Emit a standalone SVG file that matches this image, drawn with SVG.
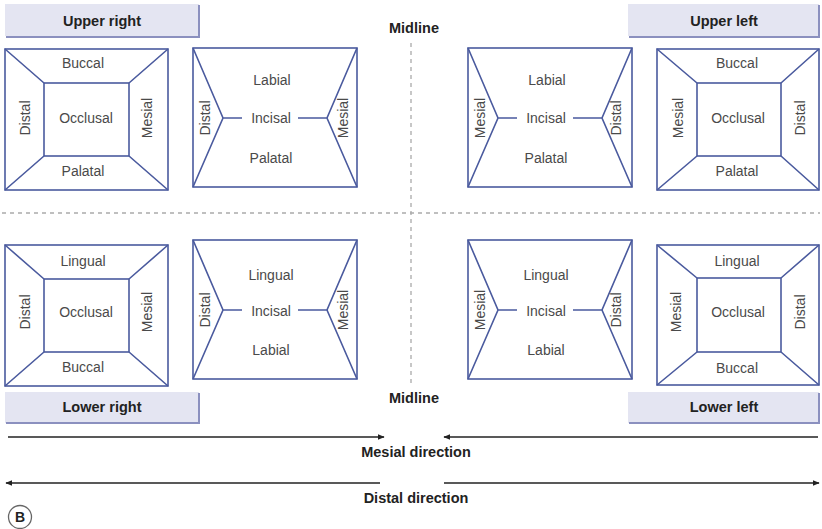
<svg xmlns="http://www.w3.org/2000/svg" width="822" height="529" viewBox="0 0 822 529">
<style>
.t{font-family:"Liberation Sans",Arial,sans-serif;font-size:14px;fill:#4a4a4a;text-anchor:middle}
.h{font-family:"Liberation Sans",Arial,sans-serif;font-size:14.5px;font-weight:bold;fill:#222;text-anchor:middle}
.o{fill:#fff;stroke:#4a5a9e;stroke-width:1.6}
.l{fill:none;stroke:#4a5a9e;stroke-width:1.6}
.lbl{fill:#e4e5f2}
.sh{fill:none;stroke:#8b90bf;stroke-width:2}
.d{fill:none;stroke:#aaa;stroke-width:1.3;stroke-dasharray:4 4}
.a{fill:none;stroke:#222;stroke-width:1.6}
</style>
<defs>
<marker id="ah" viewBox="0 0 10 10" refX="9" refY="5" markerWidth="7" markerHeight="7" markerUnits="userSpaceOnUse" orient="auto">
<path d="M0,1 L10,5 L0,9 z" fill="#222"/>
</marker>
<g id="molar">
<rect class="o" x="5" y="49" width="163" height="141"/>
<rect class="l" x="44" y="83" width="85" height="73"/>
<path class="l" d="M5,49 L44,83 M168,49 L129,83 M5,190 L44,156 M168,190 L129,156"/>
</g>
<g id="incisor">
<rect class="o" x="193" y="48" width="164" height="139"/>
<path class="l" d="M193,48 L223,118 L193,187 M357,48 L327,118 L357,187 M223,118 L242,118 M298,118 L327,118"/>
</g>
</defs>

<g id="guides">
<line class="d" x1="411" y1="43" x2="411" y2="386"/>
<line class="d" x1="2" y1="213" x2="820" y2="213"/>
</g>

<g id="label-upper-right">
<rect class="lbl" x="5" y="4" width="194" height="32"/>
<path class="sh" d="M199,5 L199,37 L6,37"/>
<text class="h" x="102" y="26">Upper right</text>
</g>
<g id="label-upper-left">
<rect class="lbl" x="628" y="4" width="191" height="32"/>
<path class="sh" d="M819,5 L819,37 L629,37"/>
<text class="h" x="724" y="26">Upper left</text>
</g>
<g id="label-lower-right">
<rect class="lbl" x="5" y="392" width="194" height="31"/>
<path class="sh" d="M199,393 L199,423 L6,423"/>
<text class="h" x="102" y="412">Lower right</text>
</g>
<g id="label-lower-left">
<rect class="lbl" x="628" y="392" width="191" height="31"/>
<path class="sh" d="M819,393 L819,423 L629,423"/>
<text class="h" x="724" y="412">Lower left</text>
</g>

<g id="midline-top"><text class="h" x="414" y="33">Midline</text></g>
<g id="midline-bottom"><text class="h" x="414" y="403">Midline</text></g>

<g id="upper-right-molar">
<use href="#molar"/>
<text class="t" x="83" y="68">Buccal</text>
<text class="t" x="86" y="123">Occlusal</text>
<text class="t" x="83" y="176">Palatal</text>
<text class="t" transform="translate(25,118) rotate(-90)" x="0" y="5">Distal</text>
<text class="t" transform="translate(147,118) rotate(-90)" x="0" y="5">Mesial</text>
</g>

<g id="upper-right-incisor">
<use href="#incisor"/>
<text class="t" x="272" y="85">Labial</text>
<text class="t" x="271" y="123">Incisal</text>
<text class="t" x="271" y="163">Palatal</text>
<text class="t" transform="translate(205,118) rotate(-90)" x="0" y="5">Distal</text>
<text class="t" transform="translate(343,118) rotate(-90)" x="0" y="5">Mesial</text>
</g>

<g id="upper-left-incisor">
<use href="#incisor" transform="translate(275,0)"/>
<text class="t" x="547" y="85">Labial</text>
<text class="t" x="546" y="123">Incisal</text>
<text class="t" x="546" y="163">Palatal</text>
<text class="t" transform="translate(480,118) rotate(-90)" x="0" y="5">Mesial</text>
<text class="t" transform="translate(616,118) rotate(-90)" x="0" y="5">Distal</text>
</g>

<g id="upper-left-molar">
<rect class="o" x="657" y="49" width="162" height="141"/>
<rect class="l" x="697" y="83" width="84" height="73"/>
<path class="l" d="M657,49 L697,83 M819,49 L781,83 M657,190 L697,156 M819,190 L781,156"/>
<text class="t" x="737" y="68">Buccal</text>
<text class="t" x="738" y="123">Occlusal</text>
<text class="t" x="737" y="176">Palatal</text>
<text class="t" transform="translate(678,118) rotate(-90)" x="0" y="5">Mesial</text>
<text class="t" transform="translate(800,118) rotate(-90)" x="0" y="5">Distal</text>
</g>

<g id="lower-right-molar">
<use href="#molar" transform="translate(0,196)"/>
<text class="t" x="83" y="266">Lingual</text>
<text class="t" x="86" y="317">Occlusal</text>
<text class="t" x="83" y="372">Buccal</text>
<text class="t" transform="translate(25,312) rotate(-90)" x="0" y="5">Distal</text>
<text class="t" transform="translate(147,312) rotate(-90)" x="0" y="5">Mesial</text>
</g>

<g id="lower-right-incisor">
<use href="#incisor" transform="translate(0,192)"/>
<text class="t" x="271" y="280">Lingual</text>
<text class="t" x="271" y="316">Incisal</text>
<text class="t" x="271" y="355">Labial</text>
<text class="t" transform="translate(205,310) rotate(-90)" x="0" y="5">Distal</text>
<text class="t" transform="translate(343,310) rotate(-90)" x="0" y="5">Mesial</text>
</g>

<g id="lower-left-incisor">
<use href="#incisor" transform="translate(275,192)"/>
<text class="t" x="546" y="280">Lingual</text>
<text class="t" x="546" y="316">Incisal</text>
<text class="t" x="546" y="355">Labial</text>
<text class="t" transform="translate(480,310) rotate(-90)" x="0" y="5">Mesial</text>
<text class="t" transform="translate(616,310) rotate(-90)" x="0" y="5">Distal</text>
</g>

<g id="lower-left-molar">
<rect class="o" x="657" y="245" width="162" height="140"/>
<rect class="l" x="697" y="278" width="84" height="74"/>
<path class="l" d="M657,245 L697,278 M819,245 L781,278 M657,385 L697,352 M819,385 L781,352"/>
<text class="t" x="737" y="266">Lingual</text>
<text class="t" x="738" y="317">Occlusal</text>
<text class="t" x="737" y="373">Buccal</text>
<text class="t" transform="translate(676,312) rotate(-90)" x="0" y="5">Mesial</text>
<text class="t" transform="translate(800,312) rotate(-90)" x="0" y="5">Distal</text>
</g>

<g id="connectors">
<line class="a" x1="8" y1="437" x2="384" y2="437" marker-end="url(#ah)"/>
<line class="a" x1="818" y1="437" x2="444" y2="437" marker-end="url(#ah)"/>
<line class="a" x1="380" y1="483" x2="6" y2="483" marker-end="url(#ah)"/>
<line class="a" x1="444" y1="483" x2="819" y2="483" marker-end="url(#ah)"/>
</g>

<g id="direction-labels">
<text class="h" x="416" y="457">Mesial direction</text>
<text class="h" x="416" y="503">Distal direction</text>
</g>

<g id="panel-b">
<circle cx="20" cy="517" r="11.5" fill="#fff" stroke="#666" stroke-width="1.3"/>
<text class="h" x="20" y="522" style="font-size:14px">B</text>
</g>
</svg>
